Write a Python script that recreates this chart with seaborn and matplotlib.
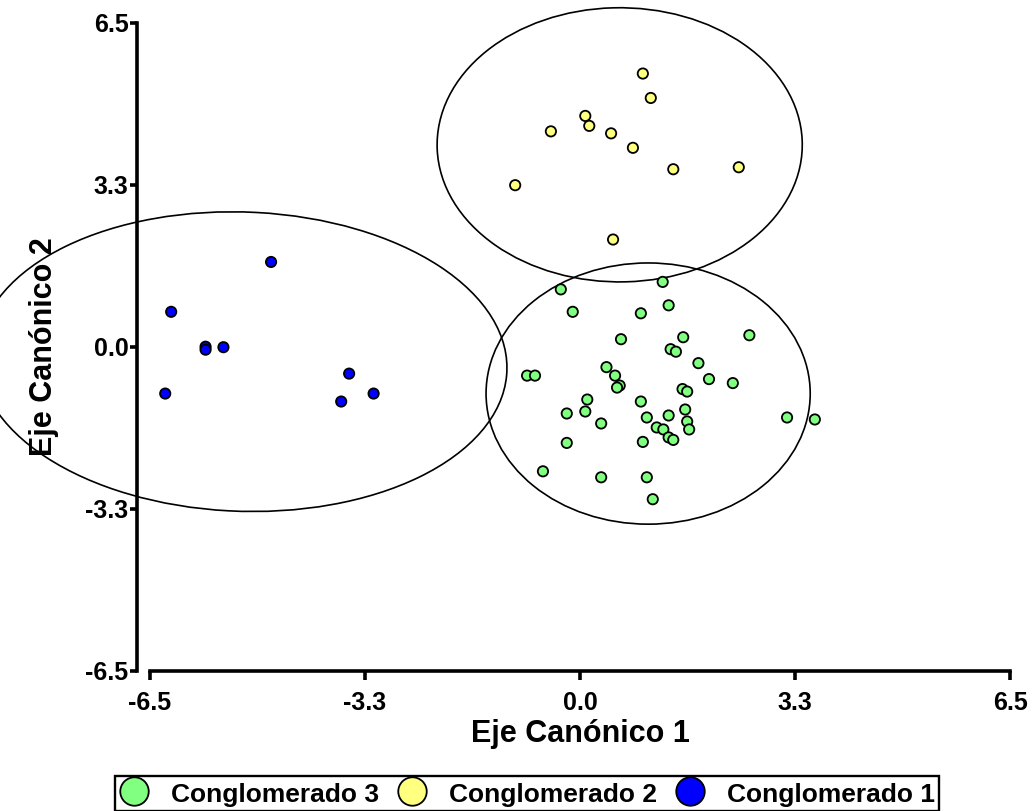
"""Canonical discriminant plot: three clusters with confidence ellipses."""
import matplotlib
matplotlib.use("Agg")
import matplotlib.pyplot as plt
from matplotlib.lines import Line2D
from matplotlib.patches import Ellipse
import numpy as np
import pandas as pd
import seaborn as sns

sns.set_theme(style="ticks")
plt.rcParams["font.family"] = ["Liberation Sans", "DejaVu Sans"]
plt.rcParams["font.weight"] = "bold"
plt.rcParams["text.color"] = "black"
plt.rcParams["axes.labelcolor"] = "black"

# ---------------------------------------------------------------------------
# Data
# ---------------------------------------------------------------------------
c1_x = [-4.67, -6.18, -5.66, -5.66, -5.39, -6.27, -3.49, -3.61, -3.12]
c1_y = [1.70, 0.70, 0.00, -0.06, -0.01, -0.94, -0.54, -1.10, -0.94]

c2_x = [0.95, 1.07, 0.08, 0.14, -0.44, 0.47, 0.80, 1.41, 2.40, -0.98, 0.50]
c2_y = [5.48, 4.99, 4.63, 4.43, 4.32, 4.28, 3.99, 3.56, 3.60, 3.24, 2.15]

c3_x = [-0.29, 1.25, -0.11, 0.92, 1.34, 2.56, 0.62, 1.56, 1.37, 1.45,
        1.79, 1.95, 2.31, -0.80, -0.68, 0.40, 0.53, 0.60, 0.56, 1.55,
        1.62, 0.11, 0.92, -0.20, 0.08, 0.32, 1.01, 1.34, 1.59, 1.62,
        1.65, 1.16, 1.26, 1.34, 1.41, 0.95, -0.20, 3.13, 3.55, -0.56,
        0.32, 1.01, 1.10]
c3_y = [1.15, 1.30, 0.70, 0.67, 0.83, 0.23, 0.15, 0.19, -0.05, -0.10,
        -0.33, -0.65, -0.73, -0.58, -0.58, -0.41, -0.58, -0.78, -0.82, -0.85,
        -0.90, -1.06, -1.10, -1.34, -1.30, -1.54, -1.42, -1.38, -1.26, -1.50,
        -1.66, -1.62, -1.66, -1.82, -1.87, -1.91, -1.93, -1.42, -1.46, -2.50,
        -2.62, -2.62, -3.06]

groups = ["Conglomerado 3", "Conglomerado 2", "Conglomerado 1"]
colors = ["#80FF80", "#FFFF80", "#0000FF"]

# confidence ellipses: centre x, centre y, width, height, angle
ell_cx = [1.03, 0.60, -5.10]
ell_cy = [-0.94, 4.05, -0.30]
ell_w = [4.90, 5.52, 8.00]
ell_h = [5.24, 5.50, 6.00]
ell_ang = [0.0, 2.0, -4.0]

ticks = [-6.5, -3.25, 0.0, 3.25, 6.5]
tick_labels = ["-6.5", "-3.3", "0.0", "3.3", "6.5"]

df = pd.concat([
    pd.DataFrame({"x": c3_x, "y": c3_y, "grupo": groups[0]}),
    pd.DataFrame({"x": c2_x, "y": c2_y, "grupo": groups[1]}),
    pd.DataFrame({"x": c1_x, "y": c1_y, "grupo": groups[2]}),
], ignore_index=True)

# ---------------------------------------------------------------------------
# Figure
# ---------------------------------------------------------------------------
W, H = 1032, 811
fig = plt.figure(figsize=(W / 100, H / 100), dpi=100)
ax = fig.add_axes([150 / W, (H - 670.7) / H, 860 / W, 648 / H])

for cx, cy, w, h, a in zip(ell_cx, ell_cy, ell_w, ell_h, ell_ang):
    ax.add_patch(Ellipse((cx, cy), w, h, angle=a, fill=False, edgecolor="black",
                         lw=1.2, clip_on=False, zorder=1))

sns.scatterplot(data=df, x="x", y="y", hue="grupo", palette=dict(zip(groups, colors)),
                s=55, edgecolor="black", linewidth=1.3, legend=False, ax=ax, zorder=3)

ax.set_xlim(-6.5, 6.5)
ax.set_ylim(-6.5, 6.5)
ax.set_xticks(ticks)
ax.set_xticklabels(tick_labels)
ax.set_yticks(ticks)
ax.set_yticklabels(tick_labels)

for side in ["top", "right"]:
    ax.spines[side].set_visible(False)
ax.spines["left"].set_position(("outward", 9.5))
for side in ["left", "bottom"]:
    ax.spines[side].set_linewidth(2.6)
    ax.spines[side].set_color("black")

ax.tick_params(axis="x", direction="out", length=6.5, width=2.6, pad=8,
               labelsize=18, colors="black")
ax.tick_params(axis="y", direction="out", length=5, width=2.6, pad=1,
               labelsize=18, colors="black")
for lab in ax.get_xticklabels() + ax.get_yticklabels():
    lab.set_fontweight("bold")

ax.set_xlabel("Eje Canónico 1", fontsize=22, fontweight="bold", color="black")
ax.set_ylabel("Eje Canónico 2", fontsize=22, fontweight="bold", color="black")
ax.xaxis.set_label_coords(0.5, -0.075)
ax.yaxis.set_label_coords(-0.106, 0.5)

handles = [Line2D([], [], marker="o", ls="", markersize=20.5, markerfacecolor=c,
                  markeredgecolor="black", markeredgewidth=1.3) for c in colors]
leg = fig.legend(handles, groups, loc="lower center", bbox_to_anchor=(527 / W, 0.0),
                 ncol=3, frameon=True, fancybox=False, framealpha=1,
                 prop={"size": 19, "weight": "bold"}, handlelength=1.14,
                 handleheight=1.14, handletextpad=0.83, columnspacing=0.68,
                 borderpad=0.15, borderaxespad=0.0, labelcolor="black")
leg.get_frame().set_edgecolor("black")
leg.get_frame().set_linewidth(1.7)

fig.savefig("out.png", dpi=100)
